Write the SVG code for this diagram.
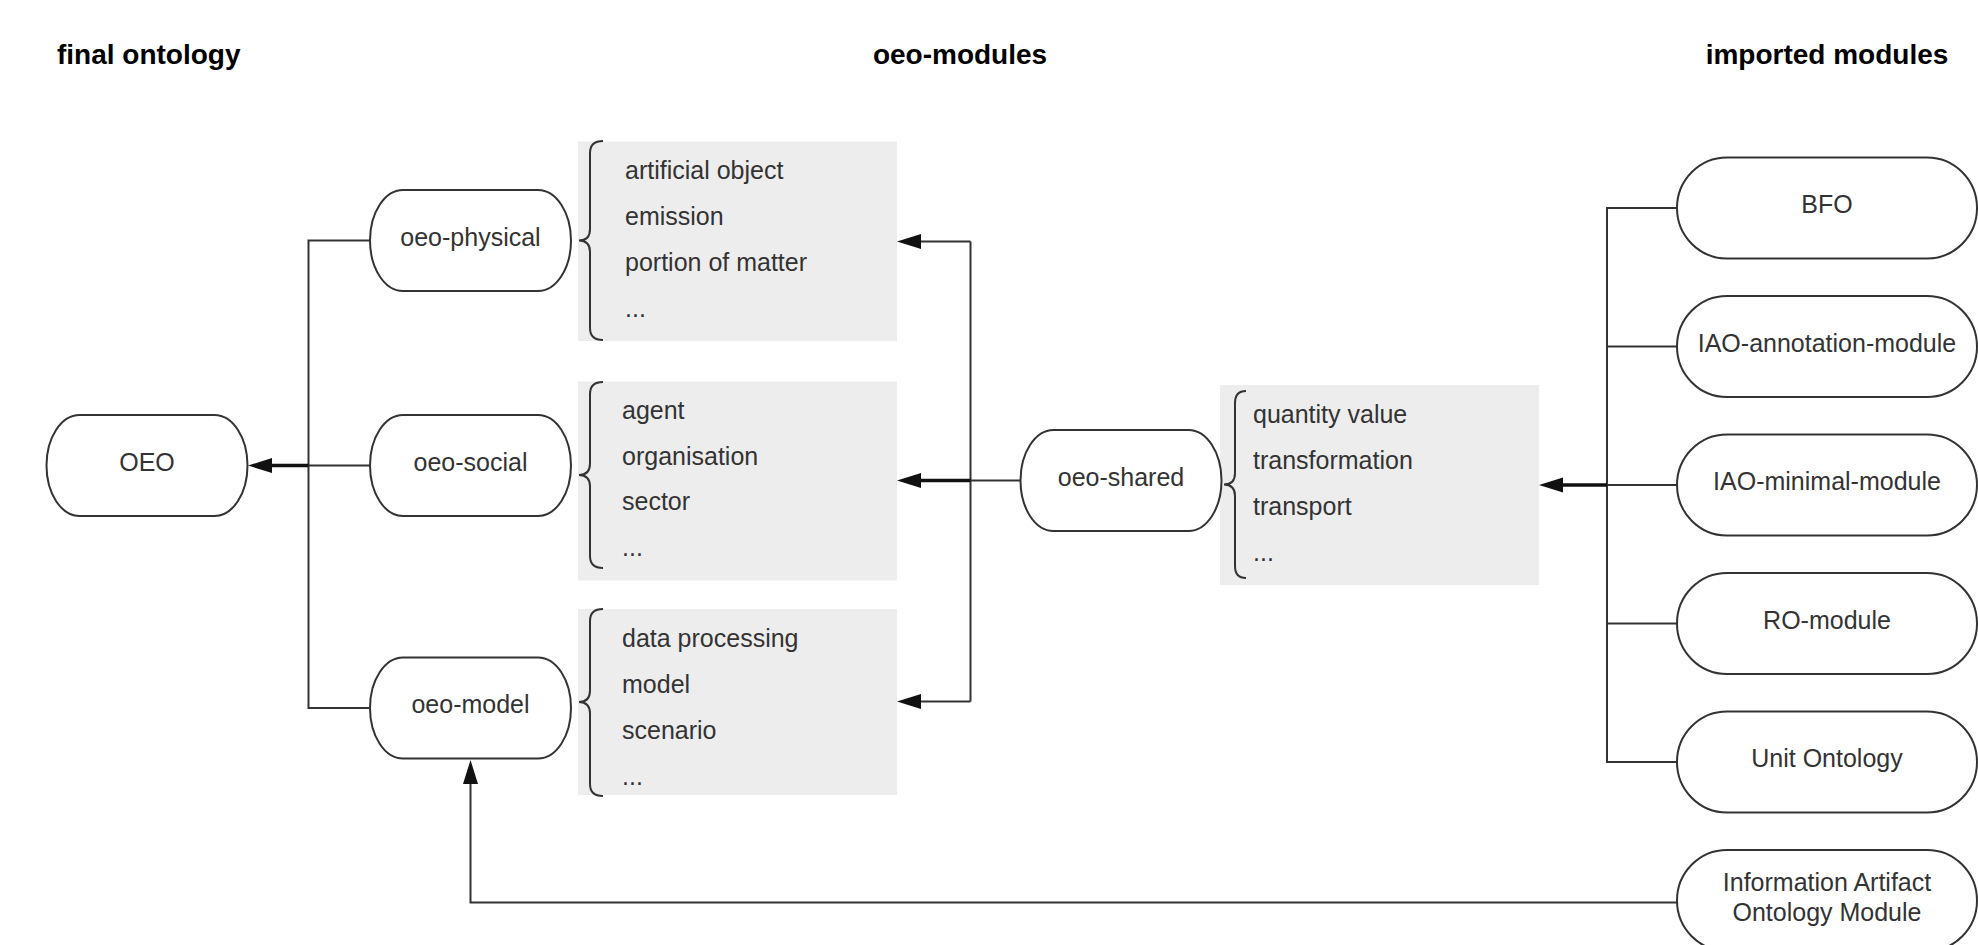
<svg xmlns="http://www.w3.org/2000/svg" width="1978" height="945" viewBox="0 0 1978 945">
<defs>
<style>
.title{font-family:"Liberation Sans",Arial,sans-serif;font-weight:bold;font-size:28px;fill:#000}
.node rect{fill:#fff;stroke:#333;stroke-width:2}
.node text{font-family:"Liberation Sans",Arial,sans-serif;font-size:25px;fill:#333;text-anchor:middle}
.box rect{fill:#ededed}
.box text{font-family:"Liberation Sans",Arial,sans-serif;font-size:25px;fill:#333}
.brace{fill:none;stroke:#333;stroke-width:2}
.ln{fill:none;stroke:#333;stroke-width:2}
.thick{fill:none;stroke:#111;stroke-width:3.5}
</style>
<marker id="arr" markerUnits="userSpaceOnUse" markerWidth="24" markerHeight="16" viewBox="0 0 24 16" refX="4" refY="8" orient="auto">
<path d="M0,0.5 L24,8 L0,15.5 Z" fill="#111"/>
</marker>
</defs>
<rect width="1978" height="945" fill="#fff"/>

<text class="title" x="57" y="64">final ontology</text>
<text class="title" x="960" y="64" text-anchor="middle">oeo-modules</text>
<text class="title" x="1827" y="64" text-anchor="middle">imported modules</text>

<g id="box-physical" class="box">
<rect x="578" y="141.5" width="319" height="199.5"/>
<path class="brace" d="M603,141 Q590,141 590,153 L590,229 Q590,240.5 579,240.5 Q590,240.5 590,252 L590,328 Q590,340 603,340"/>
<text x="625" y="179">artificial object</text>
<text x="625" y="225">emission</text>
<text x="625" y="271">portion of matter</text>
<text x="625" y="317">...</text>
</g>
<g id="box-social" class="box">
<rect x="578" y="381.5" width="319" height="199"/>
<path class="brace" d="M603,382 Q590,382 590,394 L590,463.5 Q590,475 579,475 Q590,475 590,486.5 L590,556 Q590,568 603,568"/>
<text x="622" y="419">agent</text>
<text x="622" y="464.5">organisation</text>
<text x="622" y="510">sector</text>
<text x="622" y="555.5">...</text>
</g>
<g id="box-model" class="box">
<rect x="578" y="609" width="319" height="186"/>
<path class="brace" d="M603,609 Q590,609 590,621 L590,690.5 Q590,702 579,702 Q590,702 590,713.5 L590,784 Q590,796 603,796"/>
<text x="622" y="647">data processing</text>
<text x="622" y="693">model</text>
<text x="622" y="739">scenario</text>
<text x="622" y="785">...</text>
</g>
<g id="box-shared" class="box">
<rect x="1220" y="385" width="319" height="200"/>
<path class="brace" d="M1246,391 Q1235,391 1235,403 L1235,473 Q1235,484.5 1224,484.5 Q1235,484.5 1235,496 L1235,566 Q1235,578 1246,578"/>
<text x="1253" y="423">quantity value</text>
<text x="1253" y="469">transformation</text>
<text x="1253" y="515">transport</text>
<text x="1253" y="561">...</text>
</g>

<g id="connectors">
<path class="ln" d="M370,240.5 H308.5 V465.5"/>
<path class="ln" d="M370,708 H308.5 V465.5"/>
<path class="ln" d="M370,465.5 H308.5"/>
<path class="thick" d="M308.5,465.5 H268" marker-end="url(#arr)"/>
<path class="ln" d="M1020.5,480.5 H970.5"/>
<path class="ln" d="M970.5,241.5 V701.5"/>
<path class="ln" d="M970.5,241.5 H917" marker-end="url(#arr)"/>
<path class="ln" d="M970.5,701.5 H917" marker-end="url(#arr)"/>
<path class="thick" d="M970.5,480.5 H917" marker-end="url(#arr)"/>
<path class="ln" d="M1677,208 H1607 V762 H1677"/>
<path class="ln" d="M1677,346.5 H1607"/>
<path class="ln" d="M1677,485 H1607"/>
<path class="ln" d="M1677,623.5 H1607"/>
<path class="thick" d="M1607,485 H1559" marker-end="url(#arr)"/>
<path class="ln" d="M1677,902.5 H470.5 V780" marker-end="url(#arr)"/>
</g>

<g id="node-oeo" class="node"><rect x="46.5" y="415" width="201" height="101" rx="33" ry="50.5"/><text x="147" y="470.5">OEO</text></g>
<g id="node-oeo-physical" class="node"><rect x="370" y="190" width="201" height="101" rx="33" ry="50.5"/><text x="470.5" y="245.5">oeo-physical</text></g>
<g id="node-oeo-social" class="node"><rect x="370" y="415" width="201" height="101" rx="33" ry="50.5"/><text x="470.5" y="470.5">oeo-social</text></g>
<g id="node-oeo-model" class="node"><rect x="370" y="657.5" width="201" height="101" rx="33" ry="50.5"/><text x="470.5" y="713">oeo-model</text></g>
<g id="node-oeo-shared" class="node"><rect x="1020.5" y="430" width="201" height="101" rx="33" ry="50.5"/><text x="1121" y="485.5">oeo-shared</text></g>
<g id="node-bfo" class="node"><rect x="1677" y="157.5" width="300" height="101" rx="50" ry="50.5"/><text x="1827" y="213">BFO</text></g>
<g id="node-iao-annotation" class="node"><rect x="1677" y="296" width="300" height="101" rx="50" ry="50.5"/><text x="1827" y="351.5">IAO-annotation-module</text></g>
<g id="node-iao-minimal" class="node"><rect x="1677" y="434.5" width="300" height="101" rx="50" ry="50.5"/><text x="1827" y="490">IAO-minimal-module</text></g>
<g id="node-ro" class="node"><rect x="1677" y="573" width="300" height="101" rx="50" ry="50.5"/><text x="1827" y="628.5">RO-module</text></g>
<g id="node-uo" class="node"><rect x="1677" y="711.5" width="300" height="101" rx="50" ry="50.5"/><text x="1827" y="767">Unit Ontology</text></g>
<g id="node-iao-module" class="node"><rect x="1677" y="850" width="300" height="101" rx="50" ry="50.5"/><text x="1827" y="891">Information Artifact</text><text x="1827" y="921">Ontology Module</text></g>
</svg>
